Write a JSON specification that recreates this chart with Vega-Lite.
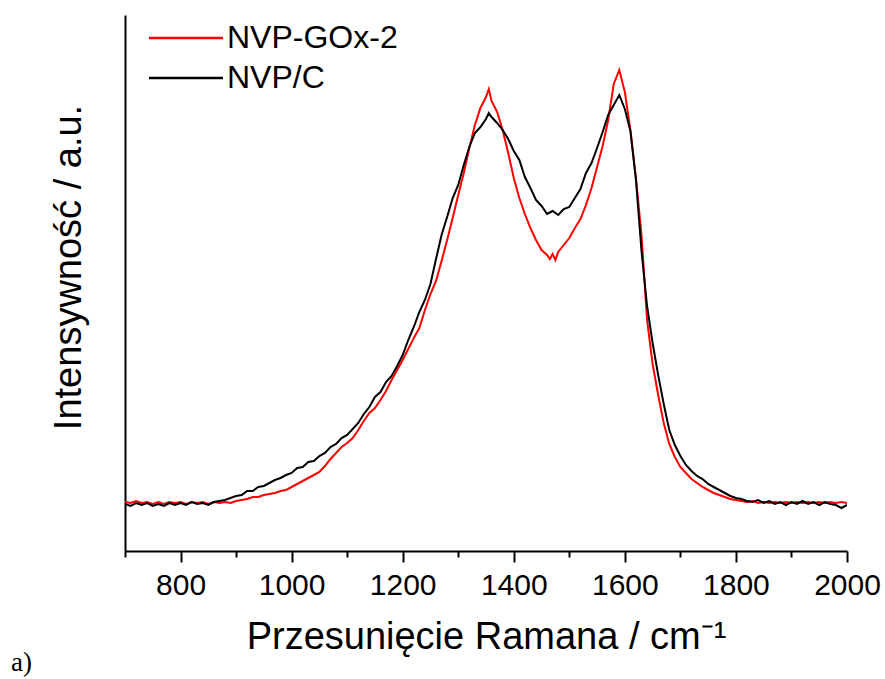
{
  "$schema": "https://vega.github.io/schema/vega-lite/v6.json",
  "autosize": {"type": "none"},
  "width": 722,
  "height": 536,
  "padding": {"left": 125, "top": 15, "right": 38, "bottom": 128},
  "background": "white",
  "config": {"view": {"stroke": null}, "font": "Liberation Sans"},
  "title": {"text": "a)", "orient": "bottom", "anchor": "start", "frame": "bounds", "font": "Liberation Serif", "fontSize": 27, "fontWeight": "normal", "color": "black", "dx": -39, "offset": -6},
  "data": {"values": [
{"s":"NVP-GOx-2","x":700,"y":49},{"s":"NVP-GOx-2","x":710,"y":48},{"s":"NVP-GOx-2","x":720,"y":50},{"s":"NVP-GOx-2","x":730,"y":48},{"s":"NVP-GOx-2","x":740,"y":49},{"s":"NVP-GOx-2","x":750,"y":47},{"s":"NVP-GOx-2","x":760,"y":49},{"s":"NVP-GOx-2","x":770,"y":47},{"s":"NVP-GOx-2","x":780,"y":49},{"s":"NVP-GOx-2","x":790,"y":48},{"s":"NVP-GOx-2","x":800,"y":49},{"s":"NVP-GOx-2","x":810,"y":47},{"s":"NVP-GOx-2","x":820,"y":49},{"s":"NVP-GOx-2","x":830,"y":48},{"s":"NVP-GOx-2","x":840,"y":49},{"s":"NVP-GOx-2","x":850,"y":47},{"s":"NVP-GOx-2","x":860,"y":49},{"s":"NVP-GOx-2","x":870,"y":48},{"s":"NVP-GOx-2","x":880,"y":49},{"s":"NVP-GOx-2","x":890,"y":48},{"s":"NVP-GOx-2","x":900,"y":50},{"s":"NVP-GOx-2","x":910,"y":51},{"s":"NVP-GOx-2","x":920,"y":52},{"s":"NVP-GOx-2","x":930,"y":54},{"s":"NVP-GOx-2","x":940,"y":54},{"s":"NVP-GOx-2","x":950,"y":56},{"s":"NVP-GOx-2","x":960,"y":57},{"s":"NVP-GOx-2","x":970,"y":58},{"s":"NVP-GOx-2","x":980,"y":60},{"s":"NVP-GOx-2","x":990,"y":61},{"s":"NVP-GOx-2","x":1000,"y":64},{"s":"NVP-GOx-2","x":1010,"y":67},{"s":"NVP-GOx-2","x":1020,"y":70},{"s":"NVP-GOx-2","x":1030,"y":73},{"s":"NVP-GOx-2","x":1040,"y":76},{"s":"NVP-GOx-2","x":1050,"y":79},{"s":"NVP-GOx-2","x":1060,"y":85},{"s":"NVP-GOx-2","x":1070,"y":92},{"s":"NVP-GOx-2","x":1080,"y":98},{"s":"NVP-GOx-2","x":1090,"y":104},{"s":"NVP-GOx-2","x":1100,"y":108},{"s":"NVP-GOx-2","x":1110,"y":113},{"s":"NVP-GOx-2","x":1120,"y":121},{"s":"NVP-GOx-2","x":1130,"y":130},{"s":"NVP-GOx-2","x":1140,"y":138},{"s":"NVP-GOx-2","x":1150,"y":143},{"s":"NVP-GOx-2","x":1160,"y":151},{"s":"NVP-GOx-2","x":1170,"y":160},{"s":"NVP-GOx-2","x":1180,"y":171},{"s":"NVP-GOx-2","x":1190,"y":181},{"s":"NVP-GOx-2","x":1200,"y":191},{"s":"NVP-GOx-2","x":1210,"y":202},{"s":"NVP-GOx-2","x":1220,"y":213},{"s":"NVP-GOx-2","x":1230,"y":223},{"s":"NVP-GOx-2","x":1240,"y":241},{"s":"NVP-GOx-2","x":1250,"y":257},{"s":"NVP-GOx-2","x":1260,"y":270},{"s":"NVP-GOx-2","x":1270,"y":290},{"s":"NVP-GOx-2","x":1280,"y":311},{"s":"NVP-GOx-2","x":1290,"y":333},{"s":"NVP-GOx-2","x":1300,"y":356},{"s":"NVP-GOx-2","x":1310,"y":378},{"s":"NVP-GOx-2","x":1320,"y":403},{"s":"NVP-GOx-2","x":1330,"y":426},{"s":"NVP-GOx-2","x":1340,"y":443},{"s":"NVP-GOx-2","x":1350,"y":454},{"s":"NVP-GOx-2","x":1355,"y":462},{"s":"NVP-GOx-2","x":1360,"y":450},{"s":"NVP-GOx-2","x":1370,"y":439},{"s":"NVP-GOx-2","x":1380,"y":421},{"s":"NVP-GOx-2","x":1390,"y":398},{"s":"NVP-GOx-2","x":1400,"y":373},{"s":"NVP-GOx-2","x":1410,"y":353},{"s":"NVP-GOx-2","x":1420,"y":337},{"s":"NVP-GOx-2","x":1430,"y":323},{"s":"NVP-GOx-2","x":1440,"y":311},{"s":"NVP-GOx-2","x":1450,"y":301},{"s":"NVP-GOx-2","x":1460,"y":296},{"s":"NVP-GOx-2","x":1465,"y":292},{"s":"NVP-GOx-2","x":1470,"y":297},{"s":"NVP-GOx-2","x":1475,"y":291},{"s":"NVP-GOx-2","x":1480,"y":299},{"s":"NVP-GOx-2","x":1490,"y":306},{"s":"NVP-GOx-2","x":1500,"y":313},{"s":"NVP-GOx-2","x":1510,"y":323},{"s":"NVP-GOx-2","x":1520,"y":332},{"s":"NVP-GOx-2","x":1530,"y":346},{"s":"NVP-GOx-2","x":1540,"y":363},{"s":"NVP-GOx-2","x":1550,"y":384},{"s":"NVP-GOx-2","x":1560,"y":405},{"s":"NVP-GOx-2","x":1570,"y":431},{"s":"NVP-GOx-2","x":1580,"y":467},{"s":"NVP-GOx-2","x":1590,"y":481},{"s":"NVP-GOx-2","x":1600,"y":459},{"s":"NVP-GOx-2","x":1610,"y":421},{"s":"NVP-GOx-2","x":1620,"y":373},{"s":"NVP-GOx-2","x":1630,"y":316},{"s":"NVP-GOx-2","x":1640,"y":231},{"s":"NVP-GOx-2","x":1650,"y":187},{"s":"NVP-GOx-2","x":1660,"y":156},{"s":"NVP-GOx-2","x":1670,"y":128},{"s":"NVP-GOx-2","x":1680,"y":107},{"s":"NVP-GOx-2","x":1690,"y":94},{"s":"NVP-GOx-2","x":1700,"y":84},{"s":"NVP-GOx-2","x":1710,"y":78},{"s":"NVP-GOx-2","x":1720,"y":72},{"s":"NVP-GOx-2","x":1730,"y":68},{"s":"NVP-GOx-2","x":1740,"y":64},{"s":"NVP-GOx-2","x":1750,"y":61},{"s":"NVP-GOx-2","x":1760,"y":58},{"s":"NVP-GOx-2","x":1770,"y":56},{"s":"NVP-GOx-2","x":1780,"y":54},{"s":"NVP-GOx-2","x":1790,"y":52},{"s":"NVP-GOx-2","x":1800,"y":51},{"s":"NVP-GOx-2","x":1810,"y":50},{"s":"NVP-GOx-2","x":1820,"y":49},{"s":"NVP-GOx-2","x":1830,"y":50},{"s":"NVP-GOx-2","x":1840,"y":48},{"s":"NVP-GOx-2","x":1850,"y":49},{"s":"NVP-GOx-2","x":1860,"y":48},{"s":"NVP-GOx-2","x":1870,"y":49},{"s":"NVP-GOx-2","x":1880,"y":48},{"s":"NVP-GOx-2","x":1890,"y":49},{"s":"NVP-GOx-2","x":1900,"y":48},{"s":"NVP-GOx-2","x":1910,"y":49},{"s":"NVP-GOx-2","x":1920,"y":48},{"s":"NVP-GOx-2","x":1930,"y":49},{"s":"NVP-GOx-2","x":1940,"y":48},{"s":"NVP-GOx-2","x":1950,"y":49},{"s":"NVP-GOx-2","x":1960,"y":48},{"s":"NVP-GOx-2","x":1970,"y":49},{"s":"NVP-GOx-2","x":1980,"y":48},{"s":"NVP-GOx-2","x":1990,"y":49},{"s":"NVP-GOx-2","x":2000,"y":48},
{"s":"NVP/C","x":700,"y":47},{"s":"NVP/C","x":710,"y":45},{"s":"NVP/C","x":720,"y":48},{"s":"NVP/C","x":730,"y":46},{"s":"NVP/C","x":740,"y":48},{"s":"NVP/C","x":750,"y":45},{"s":"NVP/C","x":760,"y":47},{"s":"NVP/C","x":770,"y":45},{"s":"NVP/C","x":780,"y":48},{"s":"NVP/C","x":790,"y":46},{"s":"NVP/C","x":800,"y":48},{"s":"NVP/C","x":810,"y":46},{"s":"NVP/C","x":820,"y":49},{"s":"NVP/C","x":830,"y":47},{"s":"NVP/C","x":840,"y":48},{"s":"NVP/C","x":850,"y":46},{"s":"NVP/C","x":860,"y":49},{"s":"NVP/C","x":870,"y":50},{"s":"NVP/C","x":880,"y":51},{"s":"NVP/C","x":890,"y":53},{"s":"NVP/C","x":900,"y":55},{"s":"NVP/C","x":910,"y":56},{"s":"NVP/C","x":920,"y":60},{"s":"NVP/C","x":930,"y":60},{"s":"NVP/C","x":940,"y":64},{"s":"NVP/C","x":950,"y":65},{"s":"NVP/C","x":960,"y":68},{"s":"NVP/C","x":970,"y":71},{"s":"NVP/C","x":980,"y":73},{"s":"NVP/C","x":990,"y":76},{"s":"NVP/C","x":1000,"y":78},{"s":"NVP/C","x":1010,"y":83},{"s":"NVP/C","x":1020,"y":84},{"s":"NVP/C","x":1030,"y":89},{"s":"NVP/C","x":1040,"y":90},{"s":"NVP/C","x":1050,"y":95},{"s":"NVP/C","x":1060,"y":98},{"s":"NVP/C","x":1070,"y":104},{"s":"NVP/C","x":1080,"y":107},{"s":"NVP/C","x":1090,"y":113},{"s":"NVP/C","x":1100,"y":116},{"s":"NVP/C","x":1110,"y":122},{"s":"NVP/C","x":1120,"y":128},{"s":"NVP/C","x":1130,"y":137},{"s":"NVP/C","x":1140,"y":144},{"s":"NVP/C","x":1150,"y":154},{"s":"NVP/C","x":1160,"y":159},{"s":"NVP/C","x":1170,"y":169},{"s":"NVP/C","x":1180,"y":175},{"s":"NVP/C","x":1190,"y":185},{"s":"NVP/C","x":1200,"y":196},{"s":"NVP/C","x":1210,"y":211},{"s":"NVP/C","x":1220,"y":224},{"s":"NVP/C","x":1230,"y":239},{"s":"NVP/C","x":1240,"y":251},{"s":"NVP/C","x":1250,"y":267},{"s":"NVP/C","x":1260,"y":292},{"s":"NVP/C","x":1270,"y":316},{"s":"NVP/C","x":1280,"y":334},{"s":"NVP/C","x":1290,"y":353},{"s":"NVP/C","x":1300,"y":366},{"s":"NVP/C","x":1310,"y":386},{"s":"NVP/C","x":1320,"y":404},{"s":"NVP/C","x":1330,"y":418},{"s":"NVP/C","x":1340,"y":424},{"s":"NVP/C","x":1350,"y":432},{"s":"NVP/C","x":1355,"y":438},{"s":"NVP/C","x":1360,"y":434},{"s":"NVP/C","x":1370,"y":428},{"s":"NVP/C","x":1380,"y":421},{"s":"NVP/C","x":1390,"y":412},{"s":"NVP/C","x":1400,"y":400},{"s":"NVP/C","x":1410,"y":391},{"s":"NVP/C","x":1420,"y":374},{"s":"NVP/C","x":1430,"y":363},{"s":"NVP/C","x":1440,"y":351},{"s":"NVP/C","x":1450,"y":345},{"s":"NVP/C","x":1460,"y":337},{"s":"NVP/C","x":1470,"y":340},{"s":"NVP/C","x":1480,"y":336},{"s":"NVP/C","x":1490,"y":342},{"s":"NVP/C","x":1500,"y":344},{"s":"NVP/C","x":1510,"y":353},{"s":"NVP/C","x":1520,"y":362},{"s":"NVP/C","x":1530,"y":378},{"s":"NVP/C","x":1540,"y":388},{"s":"NVP/C","x":1550,"y":403},{"s":"NVP/C","x":1560,"y":419},{"s":"NVP/C","x":1570,"y":436},{"s":"NVP/C","x":1580,"y":446},{"s":"NVP/C","x":1590,"y":456},{"s":"NVP/C","x":1600,"y":442},{"s":"NVP/C","x":1610,"y":420},{"s":"NVP/C","x":1620,"y":371},{"s":"NVP/C","x":1630,"y":300},{"s":"NVP/C","x":1640,"y":245},{"s":"NVP/C","x":1650,"y":208},{"s":"NVP/C","x":1660,"y":176},{"s":"NVP/C","x":1670,"y":147},{"s":"NVP/C","x":1680,"y":121},{"s":"NVP/C","x":1690,"y":106},{"s":"NVP/C","x":1700,"y":95},{"s":"NVP/C","x":1710,"y":86},{"s":"NVP/C","x":1720,"y":80},{"s":"NVP/C","x":1730,"y":75},{"s":"NVP/C","x":1740,"y":72},{"s":"NVP/C","x":1750,"y":67},{"s":"NVP/C","x":1760,"y":64},{"s":"NVP/C","x":1770,"y":61},{"s":"NVP/C","x":1780,"y":58},{"s":"NVP/C","x":1790,"y":55},{"s":"NVP/C","x":1800,"y":53},{"s":"NVP/C","x":1810,"y":52},{"s":"NVP/C","x":1820,"y":50},{"s":"NVP/C","x":1830,"y":49},{"s":"NVP/C","x":1840,"y":51},{"s":"NVP/C","x":1850,"y":48},{"s":"NVP/C","x":1860,"y":50},{"s":"NVP/C","x":1870,"y":47},{"s":"NVP/C","x":1880,"y":49},{"s":"NVP/C","x":1890,"y":46},{"s":"NVP/C","x":1900,"y":49},{"s":"NVP/C","x":1910,"y":47},{"s":"NVP/C","x":1920,"y":50},{"s":"NVP/C","x":1930,"y":47},{"s":"NVP/C","x":1940,"y":49},{"s":"NVP/C","x":1950,"y":46},{"s":"NVP/C","x":1960,"y":49},{"s":"NVP/C","x":1970,"y":47},{"s":"NVP/C","x":1980,"y":46},{"s":"NVP/C","x":1990,"y":43},{"s":"NVP/C","x":2000,"y":46}
  ]},
  "mark": {"type": "line", "strokeWidth": 2, "clip": true},
  "encoding": {
    "x": {
      "field": "x", "type": "quantitative",
      "scale": {"domain": [700, 2000], "nice": false, "zero": false},
      "axis": {
        "title": "Przesunięcie Ramana / cm⁻¹",
        "titleFontSize": 38, "titleFont": "Liberation Sans", "titleFontWeight": "normal", "titleColor": "black", "titlePadding": 18,
        "values": [700,800,900,1000,1100,1200,1300,1400,1500,1600,1700,1800,1900,2000],
        "labelExpr": "datum.value % 200 === 0 ? datum.value : ''",
        "labelFontSize": 30, "labelColor": "black", "labelPadding": 8, "labelFlush": false, "labelOverlap": false,
        "grid": false,
        "domainColor": "black", "domainWidth": 2,
        "tickColor": "black", "tickWidth": 2,
        "tickSize": {"condition": {"test": "datum.value % 200 === 0", "value": 11}, "value": 6}
      }
    },
    "y": {
      "field": "y", "type": "quantitative",
      "scale": {"domain": [0, 536], "nice": false},
      "axis": {
        "title": "Intensywność / a.u.",
        "titleFontSize": 38, "titleFont": "Liberation Sans", "titleFontWeight": "normal", "titleColor": "black", "titlePadding": 37,
        "titleY": 252,
        "labels": false, "ticks": false, "grid": false,
        "domainColor": "black", "domainWidth": 2
      }
    },
    "color": {
      "field": "s", "type": "nominal",
      "scale": {"domain": ["NVP-GOx-2", "NVP/C"], "range": ["#ff0000", "#000000"]},
      "legend": {
        "title": null, "orient": "none", "legendX": 41, "legendY": 3,
        "symbolType": "M-2,0H2", "symbolSize": 1369, "symbolStrokeWidth": 2.5, "symbolFillColor": "transparent",
        "labelFontSize": 32, "labelColor": "black", "labelOffset": 21, "labelLimit": 400, "rowPadding": 4
      }
    }
  }
}
